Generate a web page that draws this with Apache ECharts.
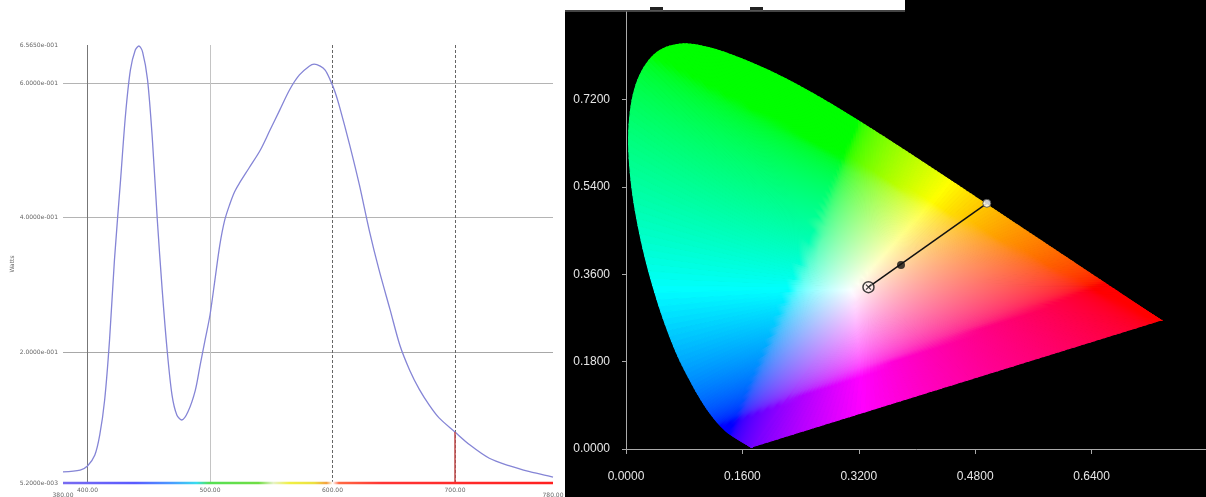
<!DOCTYPE html>
<html><head><meta charset="utf-8">
<script src="https://cdn.jsdelivr.net/npm/echarts@6.0.0/dist/echarts.min.js"></script>
<style>html,body{margin:0;padding:0;background:#fff}#c{width:1206px;height:497px}</style>
</head><body><div id="c"></div>
<script>
// ---- Left panel: spectral power distribution ----
const wavelengths = [380,394,400,406,410,414,418,422,427,431,435,439,442,445,449,453,457,461,465,469,473,477,482,488,492,496,500,504,508,512,516,520,524,532,541,549,557,565,573,581,585,590,594,598,602,606,614,622,630,638,647,655,663,671,679,687,700,712,728,744,761,773,780];
const watts = [0.0216,0.0245,0.0305,0.0468,0.0766,0.1286,0.218,0.337,0.456,0.552,0.619,0.649,0.655,0.646,0.605,0.515,0.396,0.292,0.203,0.136,0.106,0.0989,0.111,0.143,0.181,0.218,0.255,0.307,0.359,0.396,0.419,0.438,0.451,0.474,0.500,0.530,0.560,0.590,0.612,0.625,0.628,0.625,0.619,0.605,0.587,0.563,0.508,0.448,0.381,0.322,0.263,0.210,0.173,0.144,0.121,0.102,0.081,0.062,0.042,0.031,0.022,0.017,0.014];
const specMin = 0.0052, specMax = 0.6565;
const specYTicks = [0.0052, 0.2, 0.4, 0.6, 0.6565];
const specXTicks = [400, 500, 600, 700];
const specXEnds = [380, 780];
const markerNm = 700;
const markerWatt = 0.081;

// ---- Right panel: CIE 1931 chromaticity ----
const locusNm = [380,400,410,420,430,440,450,460,465,470,475,480,485,490,495,500,505,510,515,520,525,530,535,540,545,550,555,560,565,570,575,580,585,590,595,600,610,620,630,640,650,660,680,700];
const locusX = [0.1741,0.1733,0.1726,0.1714,0.1689,0.1644,0.1566,0.1440,0.1355,0.1241,0.1096,0.0913,0.0687,0.0454,0.0235,0.0082,0.0039,0.0139,0.0389,0.0743,0.1142,0.1547,0.1929,0.2296,0.2658,0.3016,0.3373,0.3731,0.4087,0.4441,0.4788,0.5125,0.5448,0.5752,0.6029,0.6270,0.6658,0.6915,0.7079,0.7190,0.7260,0.7300,0.7334,0.7347];
const locusY = [0.0050,0.0048,0.0048,0.0051,0.0069,0.0109,0.0177,0.0297,0.0399,0.0578,0.0868,0.1327,0.2007,0.2950,0.4127,0.5384,0.6548,0.7502,0.8120,0.8338,0.8262,0.8059,0.7816,0.7543,0.7243,0.6923,0.6589,0.6245,0.5896,0.5547,0.5202,0.4866,0.4544,0.4242,0.3965,0.3725,0.3340,0.3083,0.2920,0.2809,0.2740,0.2700,0.2666,0.2653];
const whitePoint = [0.3333, 0.3333];
const samplePoint = [0.378, 0.379];
const dominantPoint = [0.496, 0.506];
const cieXTicks = 0.16, cieYTicks = 0.18;

function expLabel(v){
  let s = v.toExponential(4);
  const m = s.match(/^(-?[\d.]+)e([+-])(\d+)$/);
  return m[1] + 'e' + m[2] + m[3].padStart(3,'0');
}
function chromaColor(x,y){
  const X=x/y, Y=1, Z=(1-x-y)/y;
  let r=3.2406*X-1.5372*Y-0.4986*Z, g=-0.9689*X+1.8758*Y+0.0415*Z, b=0.0557*X-0.2040*Y+1.0570*Z;
  r=Math.max(r,0); g=Math.max(g,0); b=Math.max(b,0);
  const mx=Math.max(r,g,b)||1;
  const gm=v=>{v/=mx; return v<=0.0031308?12.92*v:1.055*Math.pow(v,1/2.4)-0.055;};
  return 'rgb('+Math.round(gm(r)*255)+','+Math.round(gm(g)*255)+','+Math.round(gm(b)*255)+')';
}
function buildBoundary(){
  const pts = locusX.map((x,i)=>[x,locusY[i]]);
  const out=[]; const n=8;
  for(let i=0;i<pts.length-1;i++){
    const p0=pts[Math.max(i-1,0)], p1=pts[i], p2=pts[i+1], p3=pts[Math.min(i+2,pts.length-1)];
    for(let k=0;k<n;k++){
      const t=k/n, t2=t*t, t3=t2*t;
      const f=j=>0.5*(2*p1[j]+(-p0[j]+p2[j])*t+(2*p0[j]-5*p1[j]+4*p2[j]-p3[j])*t2+(-p0[j]+3*p1[j]-3*p2[j]+p3[j])*t3);
      out.push([f(0),f(1)]);
    }
  }
  const last=pts[pts.length-1], first=pts[0];
  const m=80;
  for(let k=0;k<=m;k++){const t=k/m; out.push([last[0]+(first[0]-last[0])*t,last[1]+(first[1]-last[1])*t]);}
  return out;
}
const boundary = buildBoundary();
const fanData = boundary.slice(0,-1).map((p,i)=>{const q=boundary[i+1]; return [(p[0]+q[0])/2,(p[1]+q[1])/2,i];});

const specStops = [
  [380,'#7a6cf0'],[440,'#5a5aff'],[470,'#4a9cff'],[490,'#38dcee'],[500,'#55e055'],[540,'#70dd44'],
  [552,'#e6f2c8'],[565,'#f0f044'],[585,'#ece040'],[595,'#f4a040'],[600,'#ffffff'],[605,'#ff6a44'],[640,'#ff3434'],[780,'#ff2020']
].map(s=>({offset:(s[0]-380)/400,color:s[1]}));

const chart = echarts.init(document.getElementById('c'));
const smallFont = {fontSize:6, color:'#666', fontFamily:'DejaVu Sans'};
chart.setOption({
  animation:false,
  graphic:[
    {type:'rect', z:-100, shape:{x:565,y:10,width:641,height:487}, style:{fill:'#000'}},
    {type:'rect', z:-100, shape:{x:905,y:0,width:301,height:10}, style:{fill:'#000'}},
    {type:'rect', z:-99, shape:{x:650,y:7,width:13,height:4}, style:{fill:'#222'}},
    {type:'rect', z:-99, shape:{x:750,y:7,width:13,height:4}, style:{fill:'#222'}},
    {type:'line', z:-99, shape:{x1:565,y1:11,x2:905,y2:11}, style:{stroke:'#888',lineWidth:1}}
  ],
  grid:[
    {left:63, top:45, width:490, height:438, outerBoundsMode:'none', containLabel:false},
    {left:626, top:12, width:582, height:437, outerBoundsMode:'none', containLabel:false}
  ],
  xAxis:[
    {type:'value', gridIndex:0, position:'bottom', min:380, max:780, name:'Wavelength', nameLocation:'middle', nameGap:13, nameTextStyle:smallFont,
     axisLine:{show:false}, axisTick:{show:false}, splitLine:{show:false},
     axisLabel:Object.assign({customValues:specXTicks, margin:4, formatter:v=>v.toFixed(2)},smallFont)},
    {type:'value', gridIndex:0, position:'bottom', min:380, max:780,
     axisLine:{show:false}, axisTick:{show:false}, splitLine:{show:false},
     axisLabel:Object.assign({customValues:specXEnds, margin:9, formatter:v=>v.toFixed(2)},smallFont)},
    {type:'value', gridIndex:1, min:0, max:0.8, interval:cieXTicks, offset:4,
     axisLine:{lineStyle:{color:'#aaa'}}, axisTick:{length:5, lineStyle:{color:'#aaa'}}, splitLine:{show:false},
     axisLabel:{margin:18, color:'#e6e6e6', fontSize:12, fontFamily:'Liberation Sans', showMaxLabel:false, formatter:v=>v.toFixed(4)}}
  ],
  yAxis:[
    {type:'value', gridIndex:0, min:specMin, max:specMax, name:'Watts', nameLocation:'middle', nameGap:48, nameRotate:90, nameTextStyle:smallFont,
     axisLine:{show:false}, axisTick:{show:false}, splitLine:{show:false},
     axisLabel:Object.assign({customValues:specYTicks, margin:5, formatter:expLabel},smallFont)},
    {type:'value', gridIndex:1, min:0, max:0.9, interval:cieYTicks, offset:2,
     axisLine:{show:true, lineStyle:{color:'#aaa'}}, axisTick:{show:true, length:4, lineStyle:{color:'#aaa'}}, splitLine:{show:false},
     axisLabel:{margin:14, color:'#e6e6e6', fontSize:12, fontFamily:'Liberation Sans', showMaxLabel:false, formatter:v=>v.toFixed(4)}}
  ],
  series:[
    {type:'line', xAxisIndex:0, yAxisIndex:0, data:wavelengths.map((w,i)=>[w,watts[i]]), smooth:0.3, showSymbol:false, symbol:'none',
     lineStyle:{color:'#8585d6', width:1.3}, z:5,
     markLine:{silent:true, symbol:'none', label:{show:false}, animation:false,
       data:[
         {yAxis:0.2, lineStyle:{color:'#a8a8a8', type:'solid', width:1}},
         {yAxis:0.4, lineStyle:{color:'#b4b4b4', type:'solid', width:1}},
         {yAxis:0.6, lineStyle:{color:'#b4b4b4', type:'solid', width:1}},
         {xAxis:400, lineStyle:{color:'#777', type:'solid', width:1}},
         {xAxis:500, lineStyle:{color:'#c4c4c4', type:'solid', width:1}},
         {xAxis:600, lineStyle:{color:'#666', type:[3,2], width:1}},
         {xAxis:700, lineStyle:{color:'#666', type:[3,2], width:1}}
       ]}},
    {type:'line', xAxisIndex:0, yAxisIndex:0, data:[[markerNm,specMin],[markerNm,markerWatt]], symbol:'none', clip:false,
     lineStyle:{color:'#c04848', width:1.5}, z:6},
    {type:'line', xAxisIndex:0, yAxisIndex:0, data:[[specXEnds[0],specMin],[specXEnds[1],specMin]], symbol:'none', clip:false,
     lineStyle:{width:2.5, color:new echarts.graphic.LinearGradient(0,0,1,0,specStops)}, z:7},
    {type:'custom', xAxisIndex:2, yAxisIndex:1, data:fanData, silent:true, z:2,
     renderItem:function(params, api){
       const i = api.value(2);
       const a = boundary[i], b = boundary[i+1];
       const m = [(a[0]+b[0])/2,(a[1]+b[1])/2];
       const pw = api.coord(whitePoint), pa = api.coord(a), pb = api.coord(b), pm = api.coord(m);
       const stops=[];
       for(let k=0;k<=24;k++){const t=k/24; stops.push({offset:t,color:chromaColor(whitePoint[0]+t*(m[0]-whitePoint[0]), whitePoint[1]+t*(m[1]-whitePoint[1]))});}
       const grad = new echarts.graphic.LinearGradient(pw[0],pw[1],pm[0],pm[1],stops,true);
       return {type:'polygon', shape:{points:[pw,pa,pb]}, style:{fill:grad, stroke:grad, lineWidth:1.2}};
     }},
    {type:'line', xAxisIndex:2, yAxisIndex:1, data:[whitePoint, dominantPoint], symbol:'none', lineStyle:{color:'#111', width:1.5}, z:8},
    {type:'scatter', xAxisIndex:2, yAxisIndex:1, data:[samplePoint], symbol:'circle', symbolSize:8, itemStyle:{color:'#111'}, z:9},
    {type:'scatter', xAxisIndex:2, yAxisIndex:1, data:[dominantPoint], symbol:'circle', symbolSize:8, itemStyle:{color:'#fff', borderColor:'#444', borderWidth:1}, z:9},
    {type:'scatter', xAxisIndex:2, yAxisIndex:1, data:[whitePoint], symbol:'circle', symbolSize:11, itemStyle:{color:'rgba(255,255,255,0.5)', borderColor:'#111', borderWidth:1.5}, z:9},
    {type:'scatter', xAxisIndex:2, yAxisIndex:1, data:[whitePoint], symbol:'path://M0,0L10,10M10,0L0,10', symbolSize:5, itemStyle:{color:'none', borderColor:'#111', borderWidth:1.2}, z:10}
  ]
});
</script></body></html>
